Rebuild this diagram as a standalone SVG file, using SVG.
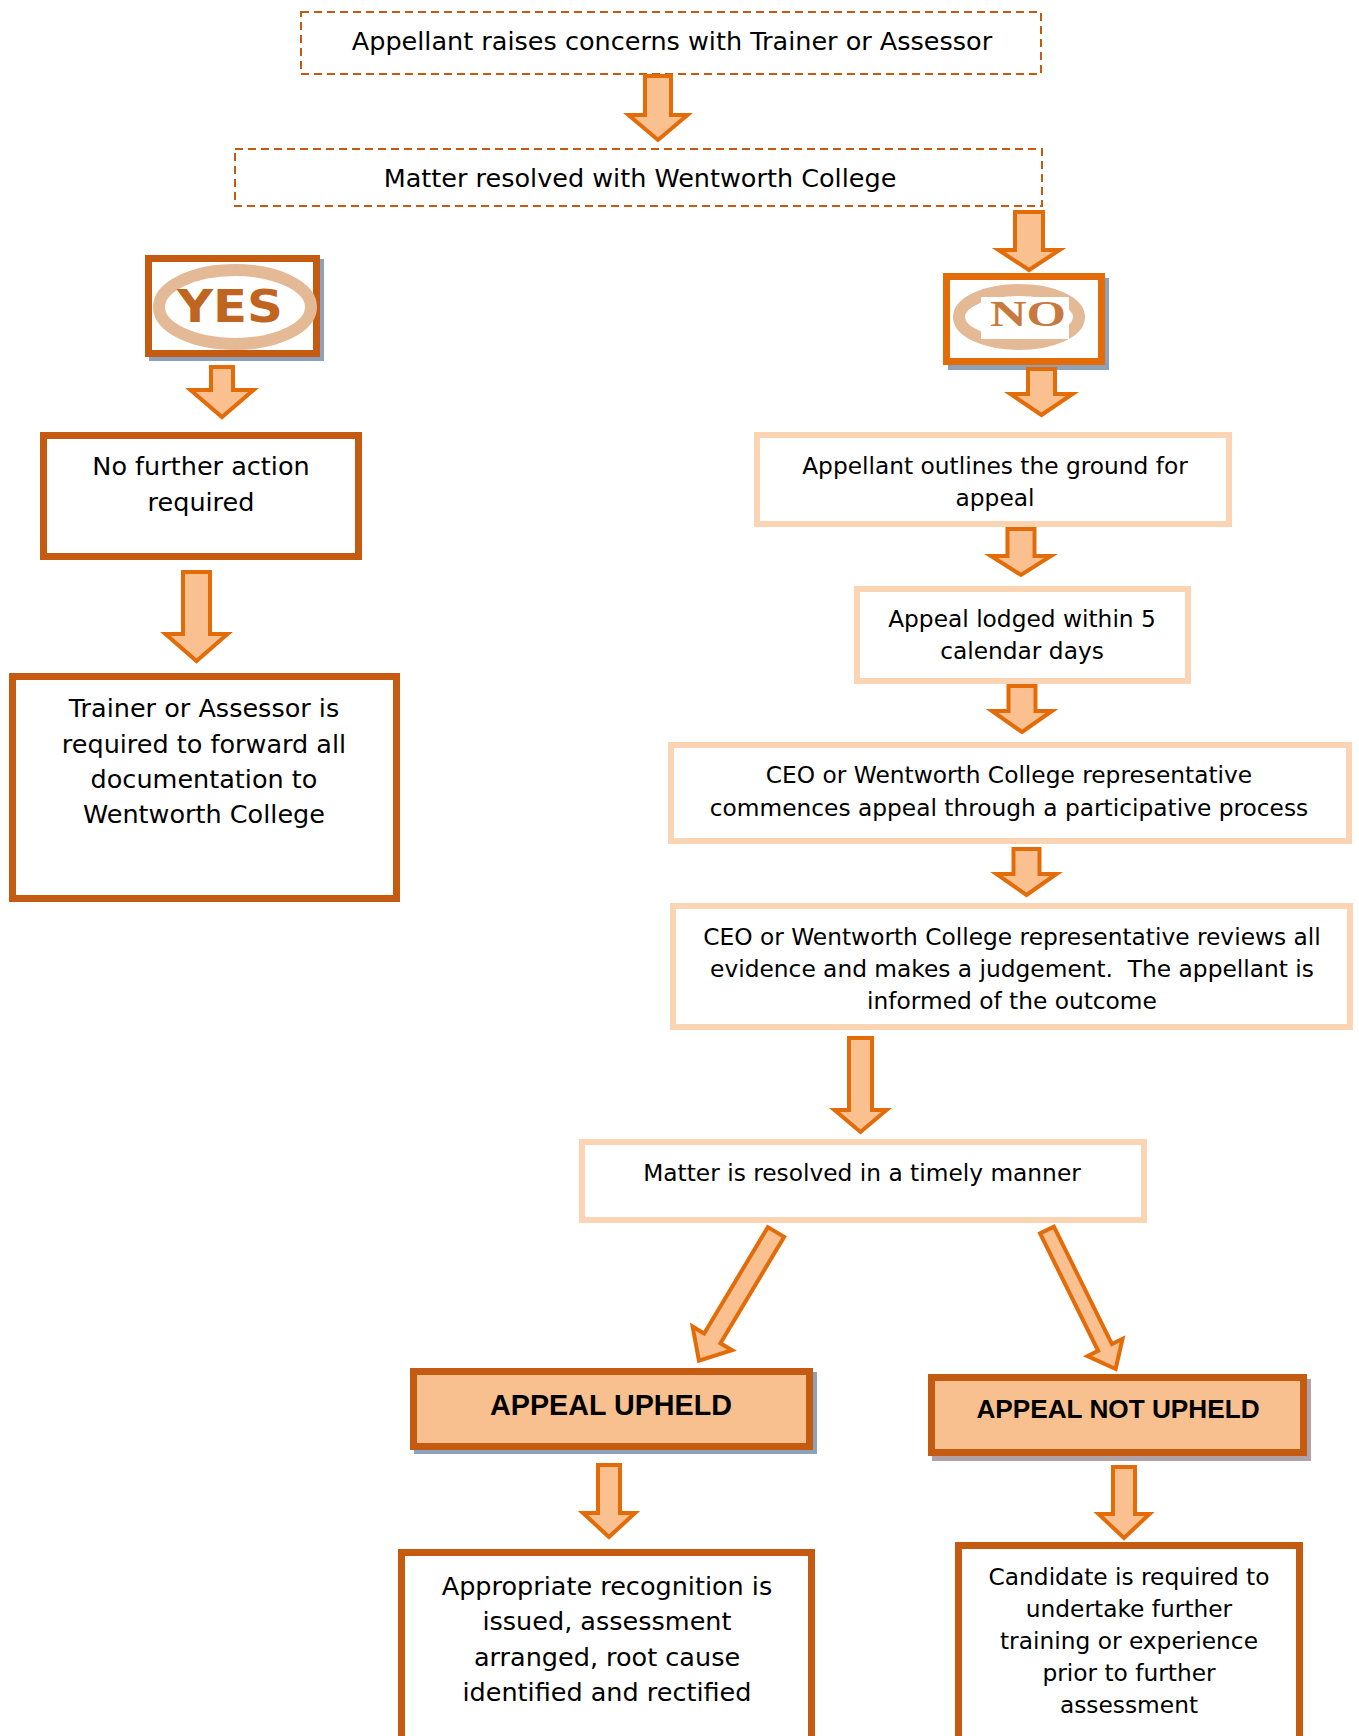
<svg xmlns="http://www.w3.org/2000/svg" width="1359" height="1736" viewBox="0 0 1359 1736">
<style>
  .t { font-family: "DejaVu Sans", "Liberation Sans", sans-serif; fill: #000; text-anchor: middle; }
  .big { font-size: 25.5px; }
  .sm { font-size: 23.3px; }
  .bold { font-family: "Liberation Sans", Arial, sans-serif; font-weight: bold; fill: #000; text-anchor: middle; }
  .dash { fill: #fff; stroke: #C55A11; stroke-width: 2; stroke-dasharray: 8 5; }
  .dark { fill: #fff; stroke: #C55A11; stroke-width: 7; }
  .light { fill: #fff; stroke: #FBD4B4; stroke-width: 6; }
  .appeal { fill: #F9C08F; stroke: #C55A11; stroke-width: 7; }
  .arrow { fill: #FAC090; stroke: #E36C09; stroke-width: 4; stroke-linejoin: miter; stroke-miterlimit: 10; }
  .ring { fill: #fff; stroke: #E4B996; stroke-width: 12; }
</style>

<g id="node-raise">
  <rect class="dash" x="301" y="12" width="740" height="62"/>
  <text class="t big" x="672" y="50">Appellant raises concerns with Trainer or Assessor</text>
</g>

<g id="node-resolved-college">
  <rect class="dash" x="235" y="149" width="807" height="57"/>
  <text class="t big" x="640" y="187">Matter resolved with Wentworth College</text>
</g>

<g id="node-yes">
  <rect x="149" y="259" width="175" height="102" fill="#8EA1BA"/>
  <rect class="dark" x="148.5" y="258.5" width="168" height="95"/>
  <ellipse class="ring" cx="235" cy="307" rx="76" ry="37"/>
  <text x="230" y="322" font-family="DejaVu Sans, sans-serif" font-weight="bold" font-size="44" fill="#C0651F" text-anchor="middle" textLength="106" lengthAdjust="spacingAndGlyphs">YES</text>
</g>

<g id="node-no">
  <rect x="948" y="278" width="161" height="92" fill="#8EA1BA"/>
  <rect x="946.5" y="276.5" width="155" height="85" fill="#fff" stroke="#E36C09" stroke-width="7"/>
  <ellipse class="ring" cx="1019" cy="317" rx="60" ry="27"/>
  <rect x="981" y="297" width="88" height="42" fill="#fff"/>
  <text x="1028" y="326" font-family="Liberation Serif, serif" font-weight="bold" font-size="36" fill="#C87A3E" text-anchor="middle" textLength="76" lengthAdjust="spacingAndGlyphs">NO</text>
</g>

<g id="node-no-further">
  <rect class="dark" x="43.5" y="435.5" width="315" height="121"/>
  <text class="t big" x="201" y="475">No further action</text>
  <text class="t big" x="201" y="511">required</text>
</g>

<g id="node-trainer">
  <rect class="dark" x="12.5" y="676.5" width="384" height="222"/>
  <text class="t big" x="204" y="717">Trainer or Assessor is</text>
  <text class="t big" x="204" y="753">required to forward all</text>
  <text class="t big" x="204" y="788">documentation to</text>
  <text class="t big" x="204" y="823">Wentworth College</text>
</g>

<g id="node-grounds">
  <rect class="light" x="757" y="435" width="472" height="89"/>
  <text class="t sm" x="995" y="474">Appellant outlines the ground for</text>
  <text class="t sm" x="995" y="506">appeal</text>
</g>

<g id="node-lodged">
  <rect class="light" x="857" y="589" width="331" height="92"/>
  <text class="t sm" x="1022" y="627">Appeal lodged within 5</text>
  <text class="t sm" x="1022" y="659">calendar days</text>
</g>

<g id="node-commences">
  <rect class="light" x="671" y="745" width="678" height="96"/>
  <text class="t sm" x="1009" y="783">CEO or Wentworth College representative</text>
  <text class="t sm" x="1009" y="816">commences appeal through a participative process</text>
</g>

<g id="node-reviews">
  <rect class="light" x="673" y="906" width="677" height="121"/>
  <text class="t sm" x="1012" y="945">CEO or Wentworth College representative reviews all</text>
  <text class="t sm" x="1012" y="977" xml:space="preserve">evidence and makes a judgement.  The appellant is</text>
  <text class="t sm" x="1012" y="1009">informed of the outcome</text>
</g>

<g id="node-timely">
  <rect class="light" x="582" y="1142" width="562" height="78"/>
  <text class="t sm" x="862" y="1181">Matter is resolved in a timely manner</text>
</g>

<g id="node-upheld">
  <rect x="414" y="1372" width="403" height="82" fill="#8EA1BA"/>
  <rect class="appeal" x="413.5" y="1371.5" width="396" height="75"/>
  <text class="bold" x="611" y="1415" font-size="28.7">APPEAL UPHELD</text>
</g>

<g id="node-not-upheld">
  <rect x="932" y="1379" width="379" height="82" fill="#B0A2A6"/>
  <rect class="appeal" x="931.5" y="1377.5" width="372" height="75"/>
  <text class="bold" x="1118" y="1418" font-size="26.2">APPEAL NOT UPHELD</text>
</g>

<g id="node-recognition">
  <rect class="dark" x="401.5" y="1552.5" width="410" height="200"/>
  <text class="t big" x="607" y="1595">Appropriate recognition is</text>
  <text class="t big" x="607" y="1630">issued, assessment</text>
  <text class="t big" x="607" y="1666">arranged, root cause</text>
  <text class="t big" x="607" y="1701">identified and rectified</text>
</g>

<g id="node-candidate">
  <rect class="dark" x="958.5" y="1545.5" width="341" height="210"/>
  <text class="t sm" x="1129" y="1585">Candidate is required to</text>
  <text class="t sm" x="1129" y="1617">undertake further</text>
  <text class="t sm" x="1129" y="1649">training or experience</text>
  <text class="t sm" x="1129" y="1681">prior to further</text>
  <text class="t sm" x="1129" y="1713">assessment</text>
</g>

<g id="connectors">
  <polygon class="arrow" points="645,76 671,76 671,115 687.5,115 658,140 628.5,115 645,115"/>
  <polygon class="arrow" points="1015,212 1043,212 1043,250 1059.5,250 1029,270 998.5,250 1015,250"/>
  <polygon class="arrow" points="1028,369 1055,369 1055,394 1072.5,394 1041.5,415 1010.5,394 1028,394"/>
  <polygon class="arrow" points="211,367 233,367 233,390 253.5,390 222,417 190.5,390 211,390"/>
  <polygon class="arrow" points="183,572 210,572 210,634 227.5,634 196.5,661 165.5,634 183,634"/>
  <polygon class="arrow" points="1007.5,529 1034.5,529 1034.5,556 1051,556 1021,575 991,556 1007.5,556"/>
  <polygon class="arrow" points="1008.5,686 1035.5,686 1035.5,711 1052,711 1022,732 992,711 1008.5,711"/>
  <polygon class="arrow" points="1013.5,849 1039.5,849 1039.5,874 1056.5,874 1026.5,895 996.5,874 1013.5,874"/>
  <polygon class="arrow" points="849,1038 872,1038 872,1110 886.5,1110 860.5,1132 834.5,1110 849,1110"/>
  <polygon class="arrow" points="598,1465 620,1465 620,1513 635,1513 609,1537 583,1513 598,1513"/>
  <polygon class="arrow" points="1113,1467 1135,1467 1135,1514 1149.5,1514 1124,1538 1098.5,1514 1113,1514"/>
  <polygon class="arrow" transform="translate(776,1232) rotate(30.9)" points="-9.5,0 9.5,0 9.5,124 23,124 0,150 -23,124 -9.5,124"/>
  <polygon class="arrow" transform="translate(1047,1230) rotate(-26.3)" points="-7.7,0 7.7,0 7.7,131 19.5,131 0,155 -19.5,131 -7.7,131"/>
</g>
</svg>
